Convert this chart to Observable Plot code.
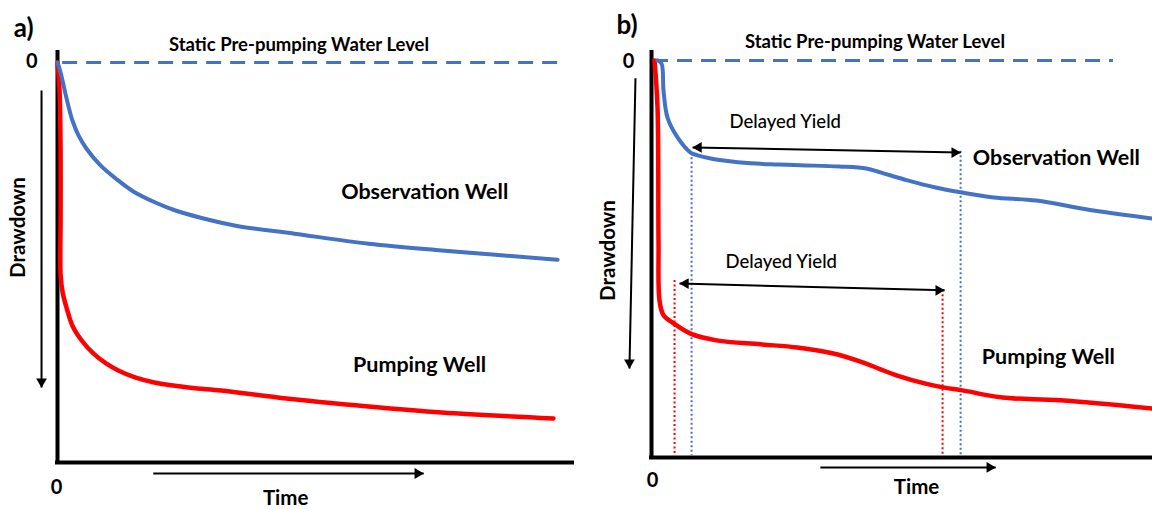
<!DOCTYPE html>
<html><head><meta charset="utf-8">
<script src="https://cdn.jsdelivr.net/npm/d3@7"></script>
<script src="https://cdn.jsdelivr.net/npm/@observablehq/plot@0.6"></script>
<style>
html,body{margin:0;padding:0;background:#fff;}
#chart{position:relative;width:1152px;height:509px;overflow:hidden;}
#chart > div{position:absolute;top:0;}
</style></head>
<body><div id="chart"><div id="pa" style="left:0"></div><div id="pb" style="left:576px"></div></div>
<script>
const BLUE = "#4472C4", RED = "#FF0000";

// ---------- Panel a: drawdown (0 = static level, 100 = bottom of frame) vs time (0..100)
const aObsTime  = [0, 0.6, 1.4, 2.1, 2.9, 4.1, 5.6, 8.4, 11.3, 14.8, 19.0, 22.9, 27.8, 34.6, 46.0, 60.4, 74.6, 97.1];
const aObsDraw  = [0, 2.5, 7.0, 10.8, 14.5, 18.3, 21.5, 25.8, 29.0, 32.3, 35.0, 37.0, 38.8, 40.8, 42.8, 45.3, 47.0, 49.3];
const aPumpTime = [0, 0.4, 0.6, 0.6, 0.6, 1.0, 1.8, 2.9, 4.7, 7.0, 9.5, 11.8, 15.2, 18.8, 25.8, 31.8, 43.1, 60.4, 74.6, 96.3];
const aPumpDraw = [0, 7.0, 22.0, 39.5, 53.0, 57.5, 61.5, 65.8, 69.5, 72.8, 75.3, 77.0, 78.8, 80.0, 81.3, 82.0, 83.8, 86.0, 87.5, 89.0];

// ---------- Panel b: delayed yield
const bObsTime  = [1.2, 2.0, 2.4, 3.2, 5.2, 7.8, 9.2, 11.8, 14.4, 19.8, 25.3, 29.7, 37.5, 42.9, 45.7, 51.1, 56.7, 61.7, 68.3, 76.8, 88.2, 100];
const bObsDraw  = [0, 0.8, 7.6, 14.4, 19.4, 23.2, 23.9, 24.7, 25.2, 25.9, 26.2, 26.4, 26.7, 27.2, 28.2, 30.2, 32.0, 33.2, 34.5, 35.3, 37.8, 39.8];
const bPumpTime = [0.6, 1.2, 1.4, 1.6, 2.4, 4.4, 7.8, 13.0, 21.8, 29.1, 36.3, 42.3, 45.7, 48.9, 54.7, 58.5, 62.1, 70.1, 81.6, 100];
const bPumpDraw = [0, 11.8, 45.3, 60.5, 64.2, 66.2, 68.8, 70.5, 71.5, 72.3, 73.8, 76.1, 77.8, 79.3, 81.4, 82.4, 83.1, 84.9, 85.6, 87.7];

// delayed-yield interval bounds (time) and the drawdown where each marker starts
const bObsYieldTime  = [8.0, 61.7];
const bObsYieldTop   = [23.4, 22.9];
const bPumpYieldTime = [4.6, 58.1];
const bPumpYieldTop  = [55.4, 57.9];

// text labels
const staticLabel = "Static Pre-pumping Water Level";
const obsLabel = "Observation Well";
const pumpLabel = "Pumping Well";
const yieldLabel = "Delayed Yield";
const xLabel = "Time";
const yLabel = "Drawdown";
const zeroLabel = "0";

const zip = (ts, ds) => ts.map((t, i) => ({t, d: ds[i]}));

function panel(cfg) {
  const marks = [
    Plot.ruleY([0], {x1: cfg.dash[0], x2: cfg.dash[1], stroke: BLUE, strokeWidth: 3, strokeDasharray: "15,9"}),
  ];
  if (cfg.dotted) {
    marks.push(Plot.ruleX(cfg.dotted.blue, {x: "t", y1: "top", y2: 99.5, stroke: BLUE, strokeWidth: 2, strokeDasharray: "2,2.5"}));
    marks.push(Plot.ruleX(cfg.dotted.red, {x: "t", y1: "top", y2: 99.5, stroke: RED, strokeWidth: 2, strokeDasharray: "2,2.5"}));
  }
  marks.push(
    Plot.ruleX([0], {y1: cfg.yTop, y2: 100, stroke: "black", strokeWidth: 4, strokeLinecap: "square"}),
    Plot.ruleY([100], {x1: 0, x2: 100, stroke: "black", strokeWidth: 4, strokeLinecap: "square"}),
    Plot.line(zip(cfg.pumpT, cfg.pumpD), {x: "t", y: "d", stroke: RED, strokeWidth: 4.5, curve: "catmull-rom"}),
    Plot.line(zip(cfg.obsT, cfg.obsD), {x: "t", y: "d", stroke: BLUE, strokeWidth: 4, curve: "catmull-rom"}),
    Plot.link(cfg.arrows, {x1: "x1", y1: "y1", x2: "x2", y2: "y2", stroke: "black", strokeWidth: 2}),
    Plot.dot(cfg.arrows.filter(a => a.head === "right" || a.head === "both"), {x: "x2", y: "y2", symbol: "triangle", r: 4, fill: "black", rotate: 90, dx: -6}),
    Plot.dot(cfg.arrows.filter(a => a.head === "both"), {x: "x1", y: "y1", symbol: "triangle", r: 4, fill: "black", rotate: -90, dx: 6}),
    Plot.dot(cfg.arrows.filter(a => a.head === "down"), {x: "x2", y: "y2", symbol: "triangle", r: 4, fill: "black", rotate: 180, dy: -6}),
    Plot.text([cfg.panelLabel], {x: cfg.pos.panel[0], y: cfg.pos.panel[1], text: d => d, textAnchor: "start", fontSize: 26, fontWeight: "bold", fill: "black"}),
    Plot.text([staticLabel], {x: cfg.pos.stat[0], y: cfg.pos.stat[1], text: d => d, fontSize: 18.5, fontWeight: "bold", fill: "black"}),
    Plot.text([zeroLabel, zeroLabel], {x: [cfg.pos.zeroY[0], cfg.pos.zeroX[0]], y: [cfg.pos.zeroY[1], cfg.pos.zeroX[1]], text: d => d, fontSize: 20, fontWeight: "bold", fill: "black"}),
    Plot.text([xLabel], {x: cfg.pos.time[0], y: cfg.pos.time[1], text: d => d, fontSize: 20.5, fontWeight: "bold", fill: "black"}),
    Plot.text([yLabel], {x: cfg.pos.draw[0], y: cfg.pos.draw[1], text: d => d, rotate: -90, fontSize: 20.5, fontWeight: "bold", fill: "black"}),
    Plot.text([obsLabel], {x: cfg.pos.obs[0], y: cfg.pos.obs[1], text: d => d, fontSize: 21.5, fontWeight: "bold", fill: "black"}),
    Plot.text([pumpLabel], {x: cfg.pos.pump[0], y: cfg.pos.pump[1], text: d => d, fontSize: 21.5, fontWeight: "bold", fill: "black"})
  );
  if (cfg.pos.yield) {
    marks.push(Plot.text([yieldLabel, yieldLabel], {x: cfg.pos.yield.map(p => p[0]), y: cfg.pos.yield.map(p => p[1]), text: d => d, fontSize: 18.5, fontWeight: 500, fill: "black"}));
  }
  return Plot.plot({
    width: 576, height: 509,
    marginLeft: cfg.m[0], marginRight: cfg.m[1], marginTop: cfg.m[2], marginBottom: cfg.m[3],
    x: {domain: [0, 100], axis: null},
    y: {domain: [cfg.yTop, 100], reverse: true, axis: null},
    style: {fontFamily: "Lato, 'Open Sans', sans-serif", background: "white", overflow: "visible"},
    marks
  });
}

document.getElementById("pa").append(panel({
  m: [57, 4, 52, 47], yTop: -2.5,
  obsT: aObsTime, obsD: aObsDraw, pumpT: aPumpTime, pumpD: aPumpDraw,
  dash: [1.0, 97.7],
  panelLabel: "a)",
  arrows: [
    {x1: 18.6, y1: 102.75, x2: 71.1, y2: 102.75, head: "right"},
    {x1: -3.1, y1: 7, x2: -3.1, y2: 81.25, head: "down"}
  ],
  pos: {
    panel: [-8.5, -8.5], stat: [46.9, -4.25], zeroY: [-5.0, -0.25], zeroX: [-0.2, 106.25],
    time: [44.3, 109.0], draw: [-7.6, 41.25], obs: [71.3, 32.5], pump: [70.3, 75.75]
  }
}));

document.getElementById("pb").append(panel({
  m: [75, 0, 52, 52], yTop: -2.0,
  obsT: bObsTime, obsD: bObsDraw, pumpT: bPumpTime, pumpD: bPumpDraw,
  dash: [0.4, 92.2],
  panelLabel: "b)",
  dotted: {
    blue: zip(bObsYieldTime, bObsYieldTop).map(o => ({t: o.t, top: o.d})),
    red: zip(bPumpYieldTime, bPumpYieldTop).map(o => ({t: o.t, top: o.d}))
  },
  arrows: [
    {x1: 33.7, y1: 102.5, x2: 68.7, y2: 102.5, head: "right"},
    {x1: -3.2, y1: 4.5, x2: -4.4, y2: 77.6, head: "down"},
    {x1: 8.2, y1: 21.9, x2: 61.7, y2: 23.2, head: "both"},
    {x1: 5.6, y1: 56.2, x2: 58.5, y2: 57.9, head: "both"}
  ],
  pos: {
    panel: [-7.0, -8.8], stat: [44.6, -4.5], zeroY: [-4.6, 0.25], zeroX: [0.2, 105.8],
    time: [52.9, 107.6], draw: [-8.6, 47.9], obs: [80.8, 24.7], pump: [79.2, 74.8],
    yield: [[26.7, 15.6], [25.9, 50.9]]
  }
}));
</script></body></html>
